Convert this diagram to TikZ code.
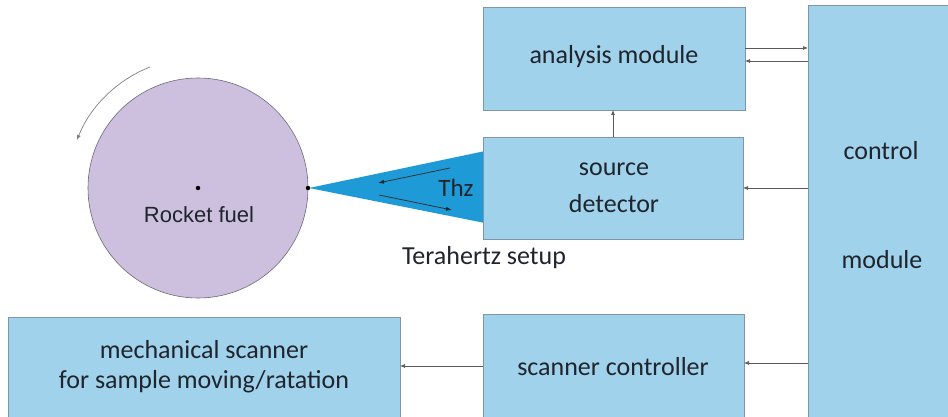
\documentclass[tikz,border=0pt]{standalone}
\usepackage{fontspec}
\setmainfont{Carlito}
\newfontfamily\arialfont{Liberation Sans}
\usetikzlibrary{arrows.meta}
\definecolor{boxfill}{RGB}{160,210,235}
\definecolor{boxline}{RGB}{125,150,170}
\definecolor{fuelfill}{RGB}{205,192,222}
\definecolor{fuelline}{RGB}{110,105,120}
\definecolor{beam}{RGB}{30,155,215}
\definecolor{txt}{RGB}{32,36,44}
\definecolor{wire}{RGB}{90,90,90}
\tikzset{
  blk/.style={draw=boxline, fill=boxfill, line width=0.6pt, rectangle, outer sep=0pt, inner sep=0pt},
  lbl/.style={text=txt, font=\fontsize{26}{30}\selectfont, inner sep=0pt, align=center},
  conn/.style={draw=wire, line width=0.7pt, -{Latex[length=5pt,width=4pt]}},
  thzarr/.style={draw=black!85, line width=0.7pt, -{Latex[length=6pt,width=4pt]}},
  dotmark/.style={fill=black, circle, inner sep=0pt, minimum size=4.5pt}
}
\begin{document}
\begin{tikzpicture}[x=1pt,y=-1pt]
\useasboundingbox (0,0) rectangle (948,417);
\clip (0,0) rectangle (948,417);
\fill[white] (0,0) rectangle (948,417);

% beam cone (drawn before the source box)
\coordinate (apex) at (309,188);
\coordinate (beamtop) at (490,150);
\coordinate (beambot) at (490,224);
\fill[beam] (apex) -- (beamtop) -- (beambot) -- cycle;

% rocket fuel disc
\node[circle, draw=fuelline, fill=fuelfill, line width=0.6pt, minimum size=220pt, inner sep=0pt, outer sep=0pt] (fuel) at (198,188) {};
\node[text=txt, font=\arialfont\fontsize{22}{25}\selectfont, inner sep=0pt] (fuellabel) at (199,215) {Rocket fuel};
\node[dotmark] (centerdot) at (fuel.center) {};
\node[dotmark] (edgedot) at (fuel.east) {};

% rotation arrow
\coordinate (rotA) at (150,67);
\coordinate (rotB) at (77,140);
\draw[draw=gray, line width=0.7pt, -{Latex[length=5pt,width=4pt]}] (rotA) .. controls (116.6,80.2) and (90.2,106.6) .. (rotB);

% boxes
\node[blk, minimum width=262pt, minimum height=103pt] (analysis) at (614,58.5) {};
\node[lbl] (analysislbl) at (614,57) {analysis module};

\node[blk, minimum width=260pt, minimum height=102pt] (source) at (613,188) {};
\node[lbl] (sourcelbl) at (614,169) {source};
\node[lbl] (detectorlbl) at (614,204) {detector};

\node[blk, minimum width=150pt, minimum height=425pt] (control) at (883,217.5) {};
\node[lbl] (controllbl) at (881,151) {control};
\node[lbl] (modulelbl) at (882,260) {module};

\node[blk, minimum width=261pt, minimum height=110pt] (scanctl) at (613.5,369) {};
\node[lbl] (scanctllbl) at (613,367) {scanner controller};

\node[blk, minimum width=392pt, minimum height=110pt] (mech) at (204,372) {};
\node[lbl] (mechlbl) at (204,367) {mechanical scanner\\for sample moving/ratation};

\node[lbl] (thzsetup) at (484,258) {Terahertz setup};

% THz beam arrows and label
\coordinate (t1a) at (450,168);
\coordinate (t1b) at (378,183);
\coordinate (t2a) at (379,195);
\coordinate (t2b) at (452,210);
\draw[thzarr] (t1a) -- (t1b);
\draw[thzarr] (t2a) -- (t2b);
\node[text=txt, font=\fontsize{25}{28}\selectfont, inner sep=0pt] (thz) at (456,188) {Thz};

% connectors
\draw[conn] (analysis.east |- 0,48) -- (control.west |- 0,48);
\draw[conn] (control.west |- 0,61) -- (analysis.east |- 0,61);
\draw[conn] (source.north) -- (analysis.south -| source.north);
\draw[conn] (control.west |- 0,188) -- (source.east |- 0,188);
\draw[conn] (control.west |- 0,363) -- (scanctl.east |- 0,363);
\draw[conn] (scanctl.west |- 0,366) -- (mech.east |- 0,366);
\end{tikzpicture}
\end{document}
